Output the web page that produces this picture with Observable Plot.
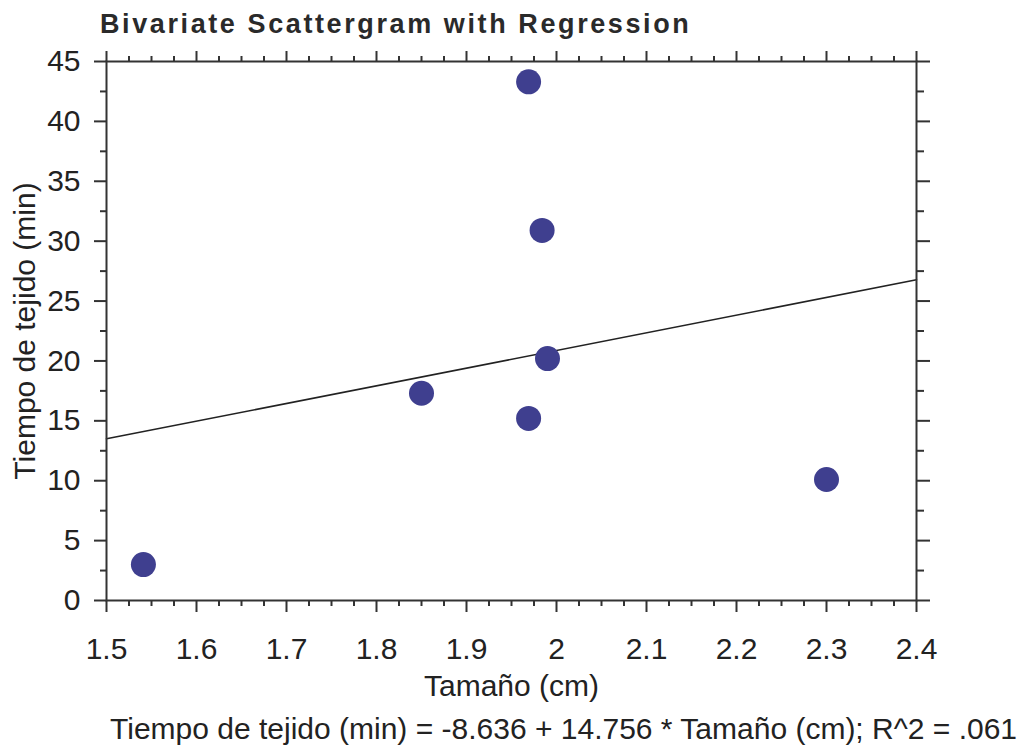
<!DOCTYPE html>
<html>
<head>
<meta charset="utf-8">
<script src="https://cdn.jsdelivr.net/npm/d3@7"></script>
<script src="https://cdn.jsdelivr.net/npm/@observablehq/plot@0.6"></script>
<style>
  html, body { margin: 0; padding: 0; background: #fff; }
  body { position: relative; width: 1020px; height: 747px; overflow: hidden; font-family: "Liberation Sans", Arial, sans-serif; color: #222; }
  #title { position: absolute; left: 100px; top: 9px; font-size: 27px; line-height: 30px; font-weight: bold; letter-spacing: 2.6px; white-space: nowrap; color: #2a2a2a; }
  #chart { position: absolute; left: 0; top: 45px; }
  #caption { position: absolute; left: 110px; top: 711px; font-size: 30px; line-height: 36px; white-space: nowrap; }
</style>
</head>
<body>
<div id="title">Bivariate Scattergram with Regression</div>
<div id="chart"></div>
<div id="caption"></div>
<script>
// Data
const tamano = [1.541, 1.85, 1.969, 1.984, 1.99, 1.969, 2.3];
const tiempo = [3.0, 17.3, 43.3, 30.9, 20.2, 15.2, 10.1];

// Regression reported in the caption
const intercept = -8.636;
const slope = 14.756;
const r2 = ".061";

// Axis ticks
const xTicks = [1.5, 1.6, 1.7, 1.8, 1.9, 2.0, 2.1, 2.2, 2.3, 2.4];
const xTickLabels = ["1.5", "1.6", "1.7", "1.8", "1.9", "2", "2.1", "2.2", "2.3", "2.4"];
const xMinor = [1.525, 1.55, 1.575, 1.625, 1.65, 1.675, 1.725, 1.75, 1.775, 1.825, 1.85, 1.875,
  1.925, 1.95, 1.975, 2.025, 2.05, 2.075, 2.125, 2.15, 2.175, 2.225, 2.25, 2.275, 2.325, 2.35, 2.375];
const yTicks = [0, 5, 10, 15, 20, 25, 30, 35, 40, 45];
const yMinor = [2.5, 7.5, 12.5, 17.5, 22.5, 27.5, 32.5, 37.5, 42.5];
const xDomain = [1.5, 2.4];
const yDomain = [0, 45];

const points = tamano.map((x, i) => ({x, y: tiempo[i]}));
const fitLine = xDomain.map(x => ({x, y: intercept + slope * x}));

const xLabel = (d) => xTickLabels[xTicks.findIndex(t => Math.abs(t - d) < 1e-9)];
const blank = () => "";
const axisColor = "#333";

const chart = Plot.plot({
  width: 1020,
  height: 665,
  marginLeft: 106,
  marginRight: 104,
  marginTop: 16,
  marginBottom: 110,
  style: {fontFamily: '"Liberation Sans", Arial, sans-serif', color: "#222", background: "#fff"},
  x: {domain: xDomain, nice: false},
  y: {domain: yDomain, nice: false},
  marks: [
    Plot.line(fitLine, {x: "x", y: "y", stroke: "#222", strokeWidth: 1.6}),
    Plot.dot(points, {x: "x", y: "y", r: 12.5, fill: "#3f3f8f", stroke: "none"}),
    Plot.frame({stroke: axisColor, strokeWidth: 2}),
    // bottom axis
    Plot.axisX({anchor: "bottom", ticks: xMinor, tickSize: 6, tickFormat: blank, label: null, stroke: axisColor, strokeWidth: 2}),
    Plot.axisX({anchor: "bottom", ticks: xTicks, tickSize: 12, tickPadding: 25, tickFormat: xLabel, fontSize: 30,
      label: "Tamaño (cm)", labelAnchor: "center", labelArrow: "none", labelOffset: 95, stroke: axisColor, strokeWidth: 2}),
    // top axis (ticks only)
    Plot.axisX({anchor: "top", ticks: xMinor, tickSize: 6, tickFormat: blank, label: null, stroke: axisColor, strokeWidth: 2}),
    Plot.axisX({anchor: "top", ticks: xTicks, tickSize: 11, tickFormat: blank, label: null, stroke: axisColor, strokeWidth: 2}),
    // left axis
    Plot.axisY({anchor: "left", ticks: yMinor, tickSize: 6, tickFormat: blank, label: null, stroke: axisColor, strokeWidth: 2}),
    Plot.axisY({anchor: "left", ticks: yTicks, tickSize: 12, tickPadding: 14, fontSize: 30,
      label: "Tiempo de tejido (min)", labelAnchor: "center", labelArrow: "none", labelOffset: 93, stroke: axisColor, strokeWidth: 2}),
    // right axis (ticks only)
    Plot.axisY({anchor: "right", ticks: yMinor, tickSize: 7, tickFormat: blank, label: null, stroke: axisColor, strokeWidth: 2}),
    Plot.axisY({anchor: "right", ticks: yTicks, tickSize: 13, tickFormat: blank, label: null, stroke: axisColor, strokeWidth: 2})
  ]
});
document.getElementById("chart").appendChild(chart);
document.getElementById("caption").textContent =
  `Tiempo de tejido (min) = ${intercept} + ${slope} * Tamaño (cm); R^2 = ${r2}`;
</script>
</body>
</html>
